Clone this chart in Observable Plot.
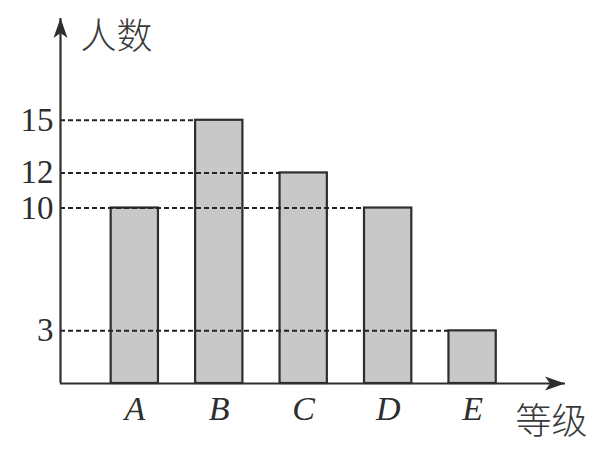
<!DOCTYPE html>
<html><head><meta charset="utf-8">
<script src="https://cdn.jsdelivr.net/npm/d3@7"></script>
<script src="https://cdn.jsdelivr.net/npm/@observablehq/plot@0.6"></script>
<style>body{margin:0;background:#fff}</style>
</head><body><div id="chart"></div>
<script>
const categories = ["A", "B", "C", "D", "E"];
const counts = [10, 15, 12, 10, 3];
const yTicks = [3, 10, 12, 15];
const yLabel = "人数";
const xLabel = "等级";

const X0 = -0.88, X1 = 5.1, YMAX = 20.8, HALF = 0.28;
const bars = categories.map((c, i) => ({i, c, v: counts[i]}));
const guides = yTicks.map(v => ({v, x2: counts.lastIndexOf(v) - HALF}));

const ink = "#2e2e2e";
function withArrow(index, scales, values, dims, context, next) {
  const g = next(index, scales, values, dims, context);
  d3.select(g).selectAll("line").attr("marker-end", "url(#arrowhead)");
  return g;
}

const plot = Plot.plot({
  width: 600, height: 454,
  marginLeft: 60, marginRight: 35, marginTop: 18, marginBottom: 71,
  style: {background: "#fff"},
  x: {type: "linear", domain: [X0, X1]},
  y: {domain: [0, YMAX]},
  marks: [
    Plot.rectY(bars, {x1: d => d.i - HALF, x2: d => d.i + HALF, y1: 0, y2: "v", fill: "#c8c8c8", stroke: ink, strokeWidth: 2.2}),
    Plot.ruleY(guides, {y: "v", x1: X0, x2: "x2", stroke: "#222", strokeWidth: 2, strokeDasharray: "5,3"}),
    Plot.ruleY([0], {x1: X0, x2: X1, stroke: ink, strokeWidth: 2.2, render: withArrow}),
    Plot.ruleX([X0], {y1: 0, y2: YMAX, stroke: ink, strokeWidth: 2.2, render: withArrow}),
    Plot.axisY({ticks: yTicks, tickSize: 0, tickPadding: 7, fontSize: 33, fontFamily: "Liberation Serif", fill: ink, label: null}),
    Plot.axisX({ticks: d3.range(categories.length), tickFormat: i => categories[i], tickSize: 0, tickPadding: 12, fontSize: 34, fontFamily: "Liberation Serif", fontStyle: "italic", fill: ink, label: null}),
    Plot.text([yLabel], {text: d => d, frameAnchor: "top-left", dx: 20, dy: 19, textAnchor: "start", lineAnchor: "middle", fontSize: 36, fontWeight: 300, fontFamily: "Noto Sans CJK SC", fill: "#3a3a3a"}),
    Plot.text([xLabel], {text: d => d, frameAnchor: "bottom-right", dx: 22, dy: 39, textAnchor: "end", lineAnchor: "middle", fontSize: 36, fontWeight: 300, fontFamily: "Noto Sans CJK SC", fill: "#3a3a3a"})
  ]
});

const defs = d3.select(plot).insert("defs", ":first-child");
defs.append("marker")
  .attr("id", "arrowhead")
  .attr("markerUnits", "userSpaceOnUse")
  .attr("markerWidth", 40).attr("markerHeight", 40)
  .attr("refX", 0).attr("refY", 0)
  .attr("orient", "auto")
  .attr("overflow", "visible")
  .append("path")
  .attr("d", "M0,0L-20,-7L-15,0L-20,7Z")
  .attr("fill", ink);

document.getElementById("chart").appendChild(plot);
</script>
</body></html>
